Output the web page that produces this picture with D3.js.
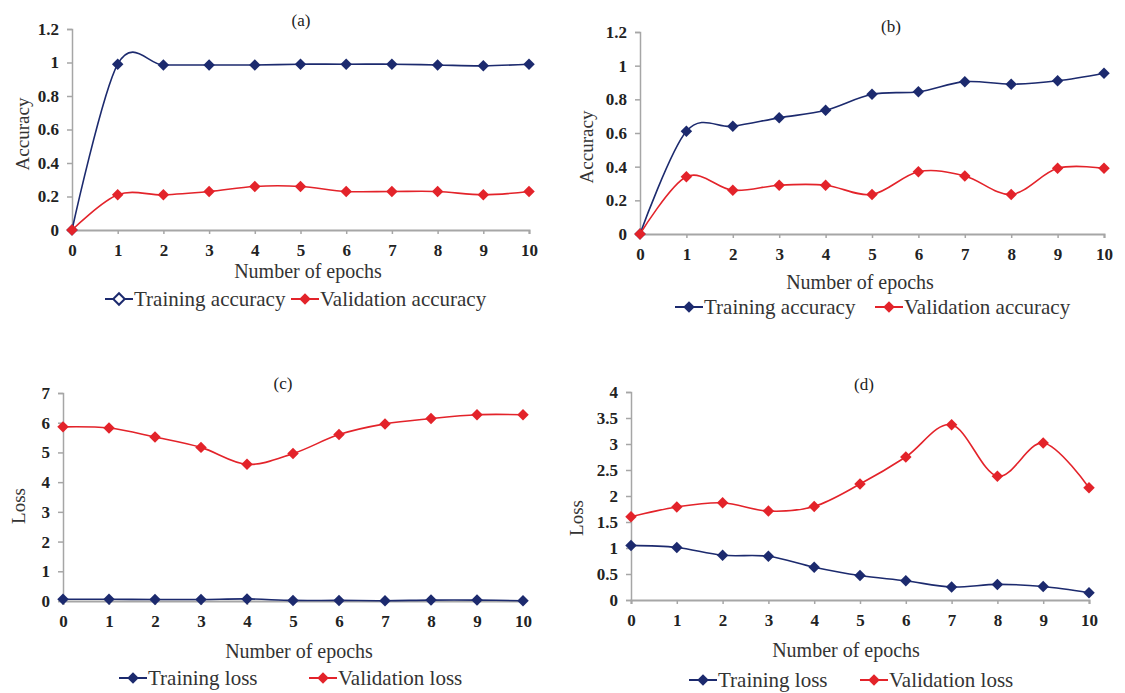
<!DOCTYPE html>
<html>
<head>
<meta charset="utf-8">
<script src="https://cdn.jsdelivr.net/npm/d3@7"></script>
<style>
  body { margin: 0; background: #fff; }
  svg { display: block; font-family: "Liberation Serif", "Times New Roman", serif; }
</style>
</head>
<body>
<div id="chart"></div>
<script>
// values
const epochs = [0, 1, 2, 3, 4, 5, 6, 7, 8, 9, 10];

const trainAccA = [0, 0.99, 0.985, 0.985, 0.985, 0.99, 0.99, 0.99, 0.985, 0.98, 0.99];
const valAccA = [0, 0.21, 0.21, 0.23, 0.26, 0.26, 0.23, 0.23, 0.23, 0.21, 0.23];

const trainAccB = [0, 0.61, 0.64, 0.69, 0.735, 0.83, 0.845, 0.905, 0.89, 0.91, 0.955];
const valAccB = [0, 0.34, 0.26, 0.29, 0.29, 0.235, 0.37, 0.345, 0.235, 0.39, 0.39];

const trainLossC = [0.06, 0.06, 0.05, 0.05, 0.07, 0.02, 0.02, 0.01, 0.03, 0.03, 0.01];
const valLossC = [5.86, 5.82, 5.52, 5.17, 4.6, 4.96, 5.6, 5.96, 6.14, 6.27, 6.27];

const trainLossD = [1.05, 1.01, 0.86, 0.84, 0.63, 0.47, 0.37, 0.25, 0.3, 0.26, 0.14];
const valLossD = [1.6, 1.79, 1.87, 1.71, 1.8, 2.23, 2.75, 3.37, 2.38, 3.02, 2.16];

const accTicks = [0, 0.2, 0.4, 0.6, 0.8, 1, 1.2];
const lossTicksC = [0, 1, 2, 3, 4, 5, 6, 7];
const lossTicksD = [0, 0.5, 1, 1.5, 2, 2.5, 3, 3.5, 4];

const navy = '#1c2a6e';
const red = '#e3232a';
const axisGrey = '#a6a6a6';
const serif = '"Liberation Serif", "Times New Roman", serif';

const width = 1125;
const height = 693;

const svg = d3.select('#chart').append('svg')
  .attr('width', width)
  .attr('height', height)
  .attr('viewBox', [0, 0, width, height]);

// layout of each panel (pixel boxes of the plot area)
const panels = [
  {
    title: '(a)', x0: 72, x1: 529, yTop: 29, yBottom: 230, ticks: accTicks, yLabel: 'Accuracy',
    series: [['Training accuracy', trainAccA, navy], ['Validation accuracy', valAccA, red]],
    titlePos: [301, 20], xLabelPos: [308, 271], yLabelPos: [22, 134],
    legendY: 299, legendX: [119, 305], hollowTrain: true,
  },
  {
    title: '(b)', x0: 640, x1: 1104, yTop: 32, yBottom: 234, ticks: accTicks, yLabel: 'Accuracy',
    series: [['Training accuracy', trainAccB, navy], ['Validation accuracy', valAccB, red]],
    titlePos: [891, 26], xLabelPos: [860, 282], yLabelPos: [586, 147],
    legendY: 307, legendX: [689, 889],
  },
  {
    title: '(c)', x0: 63, x1: 523, yTop: 393, yBottom: 601, ticks: lossTicksC, yLabel: 'Loss',
    series: [['Training loss', trainLossC, navy], ['Validation loss', valLossC, red]],
    titlePos: [283, 383], xLabelPos: [299, 651], yLabelPos: [18, 506],
    legendY: 678, legendX: [133, 323],
  },
  {
    title: '(d)', x0: 631, x1: 1089, yTop: 392, yBottom: 600, ticks: lossTicksD, yLabel: 'Loss',
    series: [['Training loss', trainLossD, navy], ['Validation loss', valLossD, red]],
    titlePos: [864, 384], xLabelPos: [846, 650], yLabelPos: [576, 518],
    legendY: 680, legendX: [703, 874],
  },
];

const diamond = d3.symbol(d3.symbolSquare, 66);

function styleAxis(axis, domainWidth) {
  axis.attr('font-family', null).attr('font-size', null);
  axis.select('.domain').attr('stroke', axisGrey).attr('stroke-width', domainWidth);
  axis.selectAll('.tick line').attr('stroke', axisGrey).attr('stroke-width', 1.5);
  axis.selectAll('.tick text')
    .attr('fill', '#222')
    .style('font-family', serif)
    .style('font-size', '17px')
    .style('font-weight', 'bold');
}

function drawPanel(p) {
  const g = svg.append('g');
  const x = d3.scaleLinear().domain([0, 10]).range([p.x0, p.x1]);
  const y = d3.scaleLinear().domain([0, d3.max(p.ticks)]).range([p.yBottom, p.yTop]);

  // y axis
  const yAxis = g.append('g')
    .attr('transform', `translate(${p.x0},0)`)
    .call(d3.axisLeft(y).tickValues(p.ticks).tickSize(5).tickPadding(8).tickFormat((d) => String(d)));
  styleAxis(yAxis, 1.5);

  // x axis
  const xAxis = g.append('g')
    .attr('transform', `translate(0,${p.yBottom})`)
    .call(d3.axisBottom(x).tickValues(epochs).tickSize(4).tickSizeOuter(4).tickPadding(10));
  styleAxis(xAxis, 2);

  // titles
  g.append('text')
    .attr('x', p.titlePos[0]).attr('y', p.titlePos[1])
    .attr('text-anchor', 'middle')
    .attr('dy', '0.35em')
    .attr('fill', '#222')
    .style('font-size', '17px')
    .text(p.title);

  g.append('text')
    .attr('x', p.xLabelPos[0]).attr('y', p.xLabelPos[1])
    .attr('text-anchor', 'middle')
    .attr('dy', '0.35em')
    .attr('fill', '#333')
    .style('font-size', '20px')
    .text('Number of epochs');

  g.append('text')
    .attr('transform', `translate(${p.yLabelPos[0]},${p.yLabelPos[1]}) rotate(-90)`)
    .attr('text-anchor', 'middle')
    .attr('dy', '0.35em')
    .attr('fill', '#333')
    .style('font-size', '19px')
    .text(p.yLabel);

  // lines and markers
  const line = d3.line()
    .x((d, i) => x(epochs[i]))
    .y((d) => y(d))
    .curve(d3.curveCatmullRom.alpha(0));

  p.series.forEach(([name, values, color]) => {
    g.append('path')
      .datum(values)
      .attr('fill', 'none')
      .attr('stroke', color)
      .attr('stroke-width', 1.6)
      .attr('d', line);

    g.append('g')
      .selectAll('path')
      .data(values)
      .join('path')
      .attr('d', diamond)
      .attr('transform', (d, i) => `translate(${x(epochs[i])},${y(d)}) rotate(45)`)
      .attr('fill', color);
  });

  // legend
  p.series.forEach(([name, , color], k) => {
    const cx = p.legendX[k];
    const lg = g.append('g').attr('transform', `translate(${cx},${p.legendY})`);
    lg.append('line')
      .attr('x1', -14).attr('x2', 14)
      .attr('stroke', color).attr('stroke-width', 2);
    lg.append('path')
      .attr('d', diamond)
      .attr('transform', 'rotate(45)')
      .attr('fill', p.hollowTrain && k === 0 ? '#fff' : color)
      .attr('stroke', color)
      .attr('stroke-width', p.hollowTrain && k === 0 ? 2 : 0);
    lg.append('text')
      .attr('x', 15)
      .attr('dy', '0.35em')
      .attr('fill', '#333')
      .style('font-size', '21px')
      .text(name);
  });
}

panels.forEach(drawPanel);
</script>
</body>
</html>
